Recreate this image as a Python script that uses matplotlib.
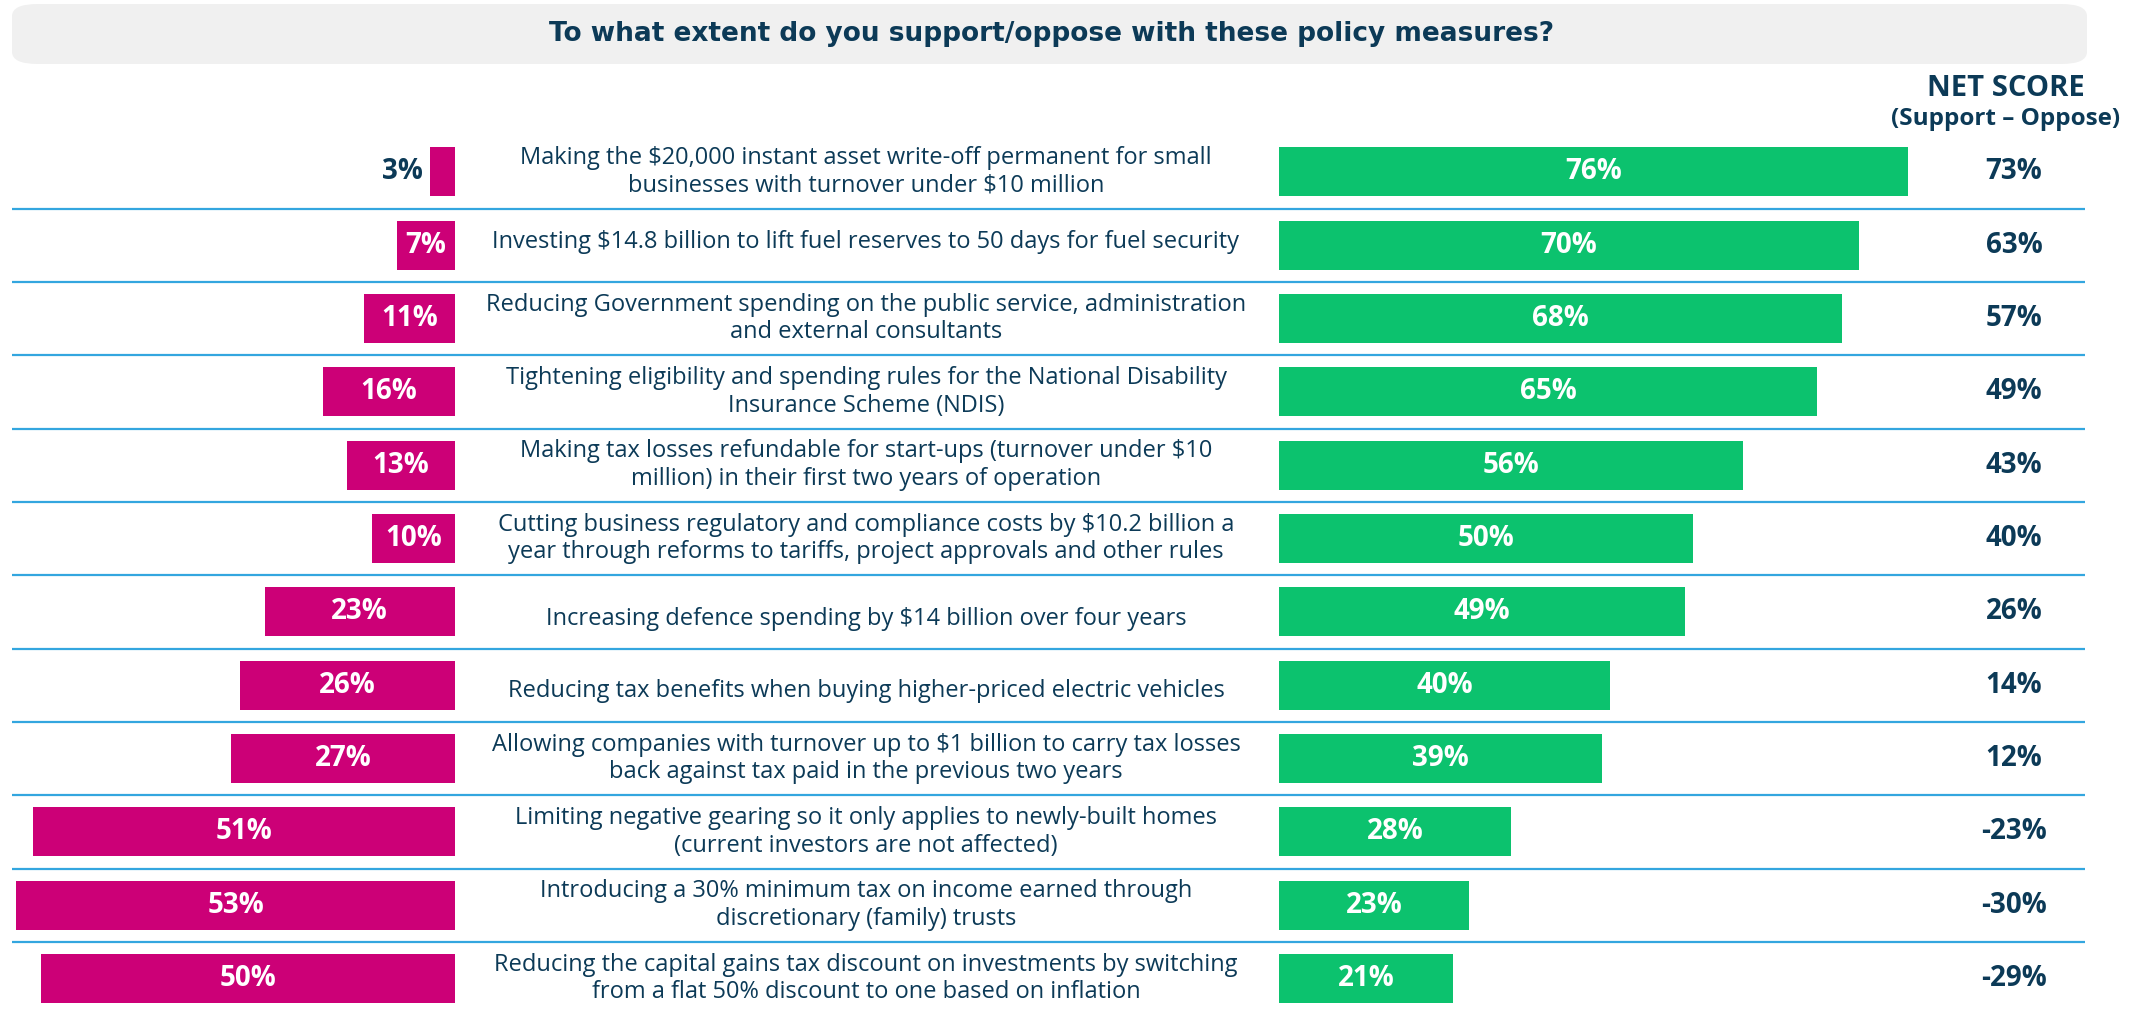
import matplotlib
matplotlib.use('Agg')
import matplotlib.pyplot as plt
from matplotlib.patches import FancyBboxPatch
from matplotlib.transforms import blended_transform_factory
import numpy as np

plt.rcParams['font.family'] = ['Open Sans', 'DejaVu Sans']

measures = [
    'Making the $20,000 instant asset write-off permanent for small\nbusinesses with turnover under $10 million',
    'Investing $14.8 billion to lift fuel reserves to 50 days for fuel security',
    'Reducing Government spending on the public service, administration\nand external consultants',
    'Tightening eligibility and spending rules for the National Disability\nInsurance Scheme (NDIS)',
    'Making tax losses refundable for start-ups (turnover under $10\nmillion) in their first two years of operation',
    'Cutting business regulatory and compliance costs by $10.2 billion a\nyear through reforms to tariffs, project approvals and other rules',
    'Increasing defence spending by $14 billion over four years',
    'Reducing tax benefits when buying higher-priced electric vehicles',
    'Allowing companies with turnover up to $1 billion to carry tax losses\nback against tax paid in the previous two years',
    'Limiting negative gearing so it only applies to newly-built homes\n(current investors are not affected)',
    'Introducing a 30% minimum tax on income earned through\ndiscretionary (family) trusts',
    'Reducing the capital gains tax discount on investments by switching\nfrom a flat 50% discount to one based on inflation',
]
oppose = [3, 7, 11, 16, 13, 10, 23, 26, 27, 51, 53, 50]
support = [76, 70, 68, 65, 56, 50, 49, 40, 39, 28, 23, 21]
net = [73, 63, 57, 49, 43, 40, 26, 14, 12, -23, -30, -29]

PINK = '#cc0077'
GREEN = '#0cc26e'
NAVY = '#0c3a57'
LINE = '#33a6df'

W, H = 2144, 1013
fig = plt.figure(figsize=(W / 100, H / 100), dpi=100)

# title box
fig.patches.append(FancyBboxPatch((12 / W, (H - 64) / H), 2075 / W, 60 / H,
                                  boxstyle='round,pad=0,rounding_size=0.012',
                                  transform=fig.transFigure, facecolor='#f0f0f0',
                                  edgecolor='none'))
fig.text(1052 / W, (H - 34) / H,
         'To what extent do you support/oppose with these policy measures?',
         ha='center', va='center', fontsize=19, fontweight='bold', color=NAVY,
         family=['DejaVu Sans'])

n = len(measures)
k = 8.28  # px per percent
y0_px, y1_px = 135.2, 1015.2
ax_b = (H - y1_px) / H
ax_h = (y1_px - y0_px) / H

axL = fig.add_axes([12 / W, ax_b, 443 / W, ax_h])
axR = fig.add_axes([1279 / W, ax_b, 865 / W, ax_h])
for ax in (axL, axR):
    ax.axis('off')

y = np.arange(n)
axL.barh(y, oppose, height=0.67, color=PINK)
axR.barh(y, support, height=0.67, color=GREEN)

for i, v in enumerate(oppose):
    if v < 5:
        axL.text(v + 0.9, i, f'{v}%', ha='right', va='center', fontsize=20,
                 fontweight='bold', color=NAVY)
    else:
        axL.text(v / 2, i, f'{v}%', ha='center', va='center', fontsize=20,
                 fontweight='bold', color='white')
for i, v in enumerate(support):
    axR.text(v / 2, i, f'{v}%', ha='center', va='center', fontsize=20,
             fontweight='bold', color='white')

tr = blended_transform_factory(fig.transFigure, axL.transData)
text_shift = {1: -0.04, 6: 0.1, 7: 0.08}
for i in range(n):
    axL.text(866 / W, i + text_shift.get(i, 0), measures[i], transform=tr,
             ha='center', va='center', fontsize=17, color=NAVY, linespacing=1.2)
    axL.text(2014 / W, i, f'{net[i]}%', transform=tr, ha='center', va='center',
             fontsize=20, fontweight='bold', color=NAVY)
for i in range(n - 1):
    axL.plot([12 / W, 2085 / W], [i + 0.5, i + 0.5], transform=tr, color=LINE,
             lw=1.6, clip_on=False, solid_capstyle='butt')

fig.text(2006 / W, (H - 89) / H, 'NET SCORE', ha='center', va='center',
         fontsize=21, fontweight='bold', color=NAVY)
fig.text(2006 / W, (H - 119) / H, '(Support \u2013 Oppose)', ha='center', va='center',
         fontsize=17.5, fontweight='bold', color=NAVY)

axL.set_xlim(443 / k, 0)
axR.set_xlim(0, 865 / k)
axL.set_ylim(n - 0.5, -0.5)
axR.set_ylim(n - 0.5, -0.5)

fig.savefig('out.png', dpi=100)
